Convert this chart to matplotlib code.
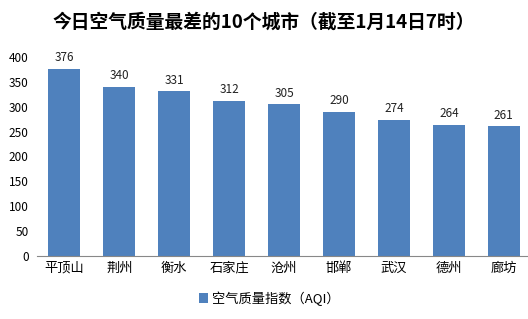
import numpy as np
import matplotlib.pyplot as plt

plt.rcParams['font.family'] = ['Noto Sans CJK SC', 'DejaVu Sans']

# data
cities = ["平顶山", "荆州", "衡水", "石家庄", "沧州", "邯郸", "武汉", "德州", "廊坊"]
aqi = [376, 340, 331, 312, 305, 290, 274, 264, 261]
yticks = [0, 50, 100, 150, 200, 250, 300, 350, 400]

bar_color = "#4F81BD"

fig = plt.figure(figsize=(5.28, 3.19), dpi=100)
ax = fig.add_axes([0.070, 0.1975, 0.936, 0.624])

x = np.arange(len(cities))
bars = ax.bar(x, aqi, width=0.58, color=bar_color, label="空气质量指数（AQI）")
for xi, v in zip(x, aqi):
    ax.text(xi, v + 9, str(v), ha='center', va='bottom', fontsize=8.5, color='#222222')

ax.set_xlim(-0.5, 8.5)
ax.set_ylim(0, 400)
ax.set_yticks(yticks)
ax.set_xticks(x)
ax.set_xticklabels(cities, fontsize=9.5)
ax.tick_params(axis='y', length=0, labelsize=8.5, pad=6)
ax.tick_params(axis='x', length=0, pad=4)
for s in ['top', 'right', 'left']:
    ax.spines[s].set_visible(False)
ax.spines['bottom'].set_color('#888888')
ax.spines['bottom'].set_linewidth(0.8)

fig.text(0.5, 0.93, "今日空气质量最差的10个城市（截至1月14日7时）",
         ha='center', va='center', fontsize=13.5, fontweight='bold')

fig.legend(handles=[bars], labels=["空气质量指数（AQI）"], loc='center',
           bbox_to_anchor=(0.51, 0.065), frameon=False, fontsize=9.5,
           handlelength=0.7, handleheight=0.7, handletextpad=0.3)

fig.savefig("out.png", dpi=100)
